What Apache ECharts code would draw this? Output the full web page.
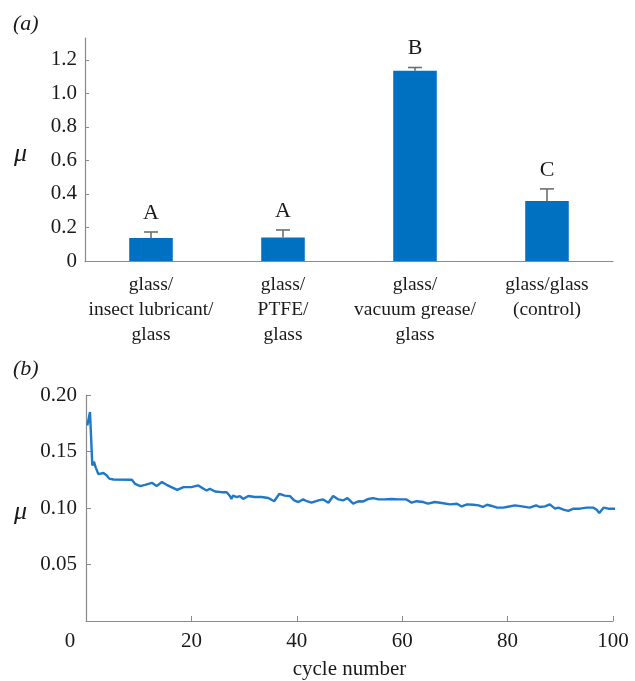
<!DOCTYPE html>
<html><head><meta charset="utf-8">
<script src="https://cdn.jsdelivr.net/npm/echarts@6/dist/echarts.min.js"></script>
<style>html,body{margin:0;padding:0;background:#fff}#c{width:635px;height:681px}</style>
</head><body><div id="c"></div>
<script>
// Panel (a)
const categories = ['glass/\ninsect lubricant/\nglass', 'glass/\nPTFE/\nglass', 'glass/\nvacuum grease/\nglass', 'glass/glass\n(control)'];
const meanMu = [0.137, 0.14, 1.134, 0.358];
const errTop = [0.173, 0.185, 1.154, 0.43];
const groupLetters = ['A', 'A', 'B', 'C'];
const yTicksA = [0, 0.2, 0.4, 0.6, 0.8, 1.0, 1.2];
// Panel (b)
const cycles = [0.25,0.76,1.2,1.5,1.84,2.34,3.3,3.9,4.4,5.2,8.7,9.3,10.3,11.2,12.5,13.4,14.4,15.3,16.2,17.3,18.5,20.0,21.3,22.3,22.9,23.5,24.5,25.7,26.7,27.3,27.6,27.9,28.6,29.2,29.8,30.8,32.0,33.3,34.6,35.7,36.7,37.7,38.7,39.5,40.3,41.2,41.9,42.8,44.1,45.0,46.0,46.9,47.9,48.8,49.6,50.7,51.7,52.6,53.6,54.5,55.5,56.7,58.0,59.3,60.8,61.8,62.7,64.0,64.9,66.2,67.5,69.1,70.4,71.3,72.3,73.5,74.5,75.3,76.1,77.0,78.0,79.2,79.8,81.4,82.7,84.2,85.4,86.1,87.1,88.0,89.0,89.6,90.6,91.5,92.5,93.7,95.0,96.3,96.9,97.4,98.2,99.1,100.5];
const muCycle = [0.173,0.185,0.1376,0.141,0.136,0.130,0.131,0.129,0.126,0.1252,0.125,0.1214,0.1194,0.1205,0.1223,0.1194,0.123,0.1205,0.1185,0.116,0.1185,0.1185,0.120,0.117,0.1155,0.117,0.1146,0.114,0.114,0.1106,0.108,0.111,0.1097,0.1106,0.108,0.1106,0.1097,0.1097,0.1088,0.106,0.1126,0.111,0.1105,0.1067,0.1053,0.1076,0.106,0.1047,0.1067,0.1076,0.1047,0.1106,0.1076,0.1067,0.1088,0.1038,0.106,0.1058,0.108,0.1088,0.1076,0.1076,0.108,0.1076,0.1076,0.1047,0.106,0.1053,0.1038,0.1053,0.1044,0.1032,0.1038,0.1014,0.1032,0.1029,0.1023,0.1009,0.1029,0.1018,0.1003,0.1003,0.1009,0.1023,0.1014,0.1003,0.1023,0.1009,0.1014,0.1032,0.0994,0.1003,0.0985,0.0974,0.0994,0.0994,0.1003,0.1003,0.0985,0.0956,0.1003,0.0994,0.0994];
const xTicksB = [0, 20, 40, 60, 80, 100];
const yTicksB = [0.05, 0.10, 0.15, 0.20];

const FONT = '"Liberation Serif", "DejaVu Serif", serif';
const FS = 21;
const AX = '#8a8a8a';
const TXT = '#1a1a1a';

const chart = echarts.init(document.getElementById('c'), null, {renderer: 'canvas'});
const lineData = cycles.map((c, i) => [c, muCycle[i]]);
const errData = meanMu.map((m, i) => [i, m, errTop[i], groupLetters[i]]);

chart.setOption({
  animation: false,
  backgroundColor: '#fff',
  textStyle: {fontFamily: FONT},
  grid: [
    {left: 85, right: 22, top: 38, height: 223},
    {left: 86, right: 22, top: 395, height: 229}
  ],
  xAxis: [
    {
      type: 'category', gridIndex: 0, data: categories,
      axisLine: {lineStyle: {color: AX, width: 1.2}},
      axisTick: {show: false},
      axisLabel: {color: TXT, fontFamily: FONT, fontSize: 19.5, lineHeight: 25, margin: 11, interval: 0}
    },
    {
      type: 'value', gridIndex: 1, min: 0, max: 100, interval: 20,
      splitLine: {show: false},
      axisLine: {lineStyle: {color: AX, width: 1.2}},
      axisTick: {inside: true, length: 5, lineStyle: {color: AX}},
      axisLabel: {
        color: TXT, fontFamily: FONT, fontSize: FS, margin: 10,
        formatter: v => v === 0 ? '{z|0}' : String(v),
        rich: {z: {fontFamily: FONT, fontSize: FS, color: TXT, padding: [0, 32, 0, 0]}}
      },
      name: 'cycle number', nameLocation: 'middle', nameGap: 38,
      nameTextStyle: {color: TXT, fontFamily: FONT, fontSize: FS}
    }
  ],
  yAxis: [
    {
      type: 'value', gridIndex: 0, min: 0, max: 1.33, interval: 0.2,
      splitLine: {show: false},
      axisLine: {show: true, lineStyle: {color: AX, width: 1.2}},
      axisTick: {show: true, inside: true, length: 4, lineStyle: {color: AX}},
      axisLabel: {
        color: TXT, fontFamily: FONT, fontSize: FS, margin: 8, showMaxLabel: false,
        formatter: v => v === 0 ? '0' : (yTicksA.some(t => Math.abs(t - v) < 1e-6) ? v.toFixed(1) : '')
      }
    },
    {
      type: 'value', gridIndex: 1, min: 0, max: 0.20, interval: 0.05,
      splitLine: {show: false},
      axisLine: {show: true, lineStyle: {color: AX, width: 1.2}},
      axisTick: {show: true, inside: true, length: 5, lineStyle: {color: AX}},
      axisLabel: {
        color: TXT, fontFamily: FONT, fontSize: FS, margin: 9,
        formatter: v => yTicksB.some(t => Math.abs(t - v) < 1e-6) ? v.toFixed(2) : ''
      }
    }
  ],
  series: [
    {
      type: 'bar', xAxisIndex: 0, yAxisIndex: 0, data: meanMu,
      barWidth: '33%', itemStyle: {color: '#0070c0'}, z: 2
    },
    {
      type: 'custom', xAxisIndex: 0, yAxisIndex: 0, data: errData, z: 3,
      renderItem: function (params, api) {
        const base = api.coord([api.value(0), api.value(1)]);
        const top = api.coord([api.value(0), api.value(2)]);
        const hw = 7;
        const st = {stroke: '#6e6e6e', lineWidth: 1.6};
        return {
          type: 'group',
          children: [
            {type: 'line', shape: {x1: base[0], y1: base[1], x2: top[0], y2: top[1]}, style: st},
            {type: 'line', shape: {x1: top[0] - hw, y1: top[1], x2: top[0] + hw, y2: top[1]}, style: st},
            {type: 'text', style: {text: groupLetters[params.dataIndex], x: top[0], y: top[1] - 19,
              align: 'center', verticalAlign: 'middle', fontFamily: FONT, fontSize: 22, fill: TXT}}
          ]
        };
      }
    },
    {
      type: 'line', xAxisIndex: 1, yAxisIndex: 1, data: lineData,
      showSymbol: false, symbol: 'none', clip: false,
      lineStyle: {color: '#1f78c8', width: 2.4}
    }
  ],
  graphic: [
    {type: 'text', left: 13, top: 13, style: {text: '(a)', fontFamily: FONT, fontStyle: 'italic', fontSize: 22, fill: TXT}},
    {type: 'text', left: 13, top: 358, style: {text: '(b)', fontFamily: FONT, fontStyle: 'italic', fontSize: 22, fill: TXT}},
    {type: 'text', left: 14, top: 141, style: {text: 'μ', fontFamily: FONT, fontStyle: 'italic', fontSize: 26, fill: TXT}},
    {type: 'text', left: 14, top: 499, style: {text: 'μ', fontFamily: FONT, fontStyle: 'italic', fontSize: 26, fill: TXT}}
  ]
});
</script>
</body></html>
